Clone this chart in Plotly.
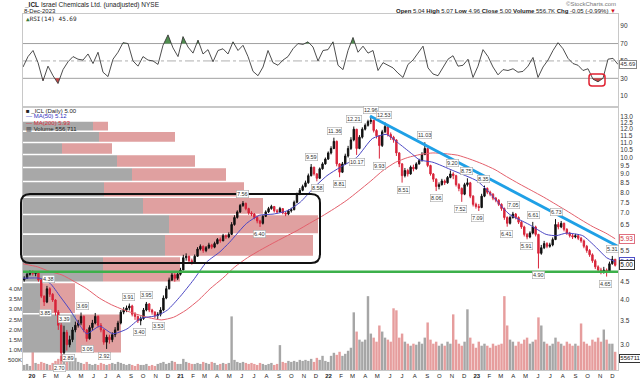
import numpy as np
import pandas as pd
import plotly.graph_objects as go

# ---------------- data ----------------
week_first = "2019-12-13"     # first weekly bar (Friday)
first_open = 4.55
x_start, x_end = "2019-12-10", "2023-12-15"

close = [4.60, 4.72, 4.80,
         4.74, 4.78, 4.55, 4.10, 3.95, 4.30, 4.15, 4.00, 3.70, 3.40, 2.85, 3.25, 3.00,
         3.10, 3.30, 3.40, 3.45, 3.60, 3.30, 3.12, 3.35, 3.45, 3.60, 3.40, 3.30, 3.05,
         3.15, 3.10, 3.20, 3.30, 3.45, 3.70, 3.75, 3.80, 3.85, 3.65, 3.60, 3.50, 3.55,
         3.75, 3.90, 3.75, 3.70, 3.62, 3.65, 3.75, 4.05, 4.30, 4.55, 4.70, 4.60, 4.72,
         4.85, 5.25, 5.30, 5.15, 5.10, 5.30, 5.55, 5.65, 5.50, 5.60, 5.70, 5.62, 5.75,
         5.90, 5.85, 6.05, 6.00, 6.10, 6.50, 6.80, 7.05, 7.35, 7.45, 7.20, 7.00, 6.95,
         6.80, 6.65, 6.55, 6.85, 7.05, 7.20, 7.30, 7.10, 7.05, 7.20, 7.00, 6.95, 7.10,
         7.15, 7.50, 7.90, 8.10, 8.30, 8.50, 8.90, 9.40, 9.00, 8.75, 9.30, 9.60, 9.90, 10.30,
         10.60, 11.10, 9.60, 9.10, 9.60, 10.10, 10.60, 11.20, 12.00, 10.60, 11.40, 12.00,
         12.30, 12.60, 12.70, 11.90, 11.50, 10.80, 11.80, 12.20, 11.60, 11.40, 11.20, 10.30, 9.60,
         8.90, 9.20, 9.00, 9.40, 9.30, 9.60, 9.80, 10.20, 10.60, 9.50, 9.00, 8.70, 8.30, 8.40,
         8.60, 8.50, 8.80, 9.00, 8.90, 8.40, 8.20, 7.90, 8.40, 8.50, 7.80, 7.40, 7.30,
         7.25, 7.80, 8.20, 8.00, 7.90, 7.70, 7.60, 7.40, 7.20, 6.80, 6.55, 6.80, 6.95,
         6.80, 6.60, 6.40, 6.10, 6.00, 6.15, 6.40, 6.10, 5.40, 5.60, 5.75, 5.65, 5.70,
         5.90, 6.50, 6.40, 6.55, 6.30, 6.15, 6.05, 6.00, 6.05, 5.95, 5.85, 5.65, 5.50,
         5.35, 5.15, 4.95, 4.85, 4.80, 4.85, 4.78, 5.05, 5.20, 5.00]
high = [4.66, 4.76, 4.84,
        4.84, 4.82, 4.80, 4.58, 4.12, 4.38, 4.34, 4.18, 4.02, 3.75, 3.45, 3.39, 3.30,
        3.18, 3.36, 3.48, 3.52, 3.69, 3.62, 3.32, 3.40, 3.52, 3.68, 3.62, 3.45, 3.32,
        3.20, 3.20, 3.25, 3.36, 3.50, 3.75, 3.82, 3.86, 3.91, 3.88, 3.70, 3.62, 3.60,
        3.80, 3.95, 3.92, 3.78, 3.72, 3.70, 3.82, 4.12, 4.38, 4.62, 4.82, 4.75, 4.80,
        4.92, 5.35, 5.40, 5.32, 5.22, 5.36, 5.62, 5.72, 5.68, 5.66, 5.78, 5.74, 5.82,
        5.96, 5.98, 6.12, 6.10, 6.18, 6.60, 6.90, 7.12, 7.42, 7.56, 7.48, 7.24, 7.08,
        7.00, 6.85, 6.70, 6.92, 7.12, 7.28, 7.38, 7.32, 7.18, 7.28, 7.22, 7.06, 7.16,
        7.24, 7.58, 7.98, 8.22, 8.40, 8.62, 9.02, 9.59, 9.42, 9.05, 9.38, 9.70, 10.00, 10.40,
        10.75, 11.36, 11.15, 9.65, 9.72, 10.25, 10.78, 11.40, 12.21, 12.00, 11.55, 12.15,
        12.45, 12.75, 12.96, 12.75, 12.00, 11.55, 11.95, 12.53, 12.25, 11.75, 11.50, 11.25, 10.35,
        9.65, 9.35, 9.30, 9.50, 9.55, 9.70, 9.92, 10.35, 11.03, 10.65, 9.55, 9.05, 8.75, 8.52,
        8.72, 8.68, 8.88, 9.20, 9.10, 8.95, 8.48, 8.25, 8.50, 8.75, 8.55, 7.85, 7.48,
        7.42, 7.92, 8.35, 8.25, 8.08, 7.95, 7.76, 7.65, 7.45, 7.25, 6.85, 6.88, 7.05,
        7.00, 6.85, 6.65, 6.45, 6.15, 6.22, 6.61, 6.45, 6.12, 5.70, 5.85, 5.80, 5.78,
        5.98, 6.73, 6.60, 6.65, 6.58, 6.35, 6.20, 6.12, 6.12, 6.10, 6.00, 5.90, 5.70,
        5.55, 5.40, 5.20, 5.00, 4.92, 4.95, 4.90, 5.12, 5.31, 5.20]
low = [4.50, 4.58, 4.68,
       4.68, 4.66, 4.50, 4.05, 3.85, 3.92, 4.08, 3.95, 3.62, 3.30, 2.70, 2.80, 2.89,
       2.95, 3.05, 3.25, 3.35, 3.40, 3.25, 3.06, 3.10, 3.30, 3.42, 3.35, 3.25, 3.00,
       2.92, 3.02, 3.05, 3.15, 3.28, 3.42, 3.65, 3.70, 3.74, 3.60, 3.52, 3.45, 3.40,
       3.52, 3.72, 3.70, 3.64, 3.56, 3.53, 3.60, 3.72, 4.02, 4.28, 4.52, 4.50, 4.55,
       4.68, 4.85, 5.15, 5.08, 5.02, 5.08, 5.28, 5.50, 5.42, 5.44, 5.55, 5.55, 5.58,
       5.72, 5.78, 5.84, 5.92, 5.95, 6.08, 6.45, 6.75, 7.00, 7.28, 7.12, 6.92, 6.86,
       6.72, 6.55, 6.40, 6.50, 6.82, 7.00, 7.15, 7.02, 6.98, 7.02, 6.94, 6.86, 6.90,
       7.02, 7.12, 7.45, 7.85, 8.05, 8.25, 8.45, 8.85, 8.90, 8.58, 8.72, 9.25, 9.55, 9.85,
       10.20, 10.55, 9.45, 8.81, 9.05, 9.55, 10.00, 10.50, 11.10, 10.17, 10.55, 11.30,
       11.90, 12.20, 12.40, 11.75, 11.30, 9.93, 10.70, 11.70, 11.45, 11.20, 11.00, 10.10, 9.40,
       8.51, 8.80, 8.85, 8.95, 9.15, 9.25, 9.55, 9.75, 10.15, 9.40, 8.90, 8.55, 8.06, 8.15,
       8.35, 8.38, 8.45, 8.75, 8.70, 8.30, 8.05, 7.52, 7.85, 8.30, 7.70, 7.30, 7.20,
       7.09, 7.22, 7.75, 7.90, 7.80, 7.60, 7.50, 7.32, 7.10, 6.70, 6.41, 6.50, 6.75,
       6.72, 6.52, 6.32, 6.02, 5.91, 5.95, 6.10, 6.02, 4.90, 5.35, 5.55, 5.58, 5.60,
       5.65, 5.88, 6.30, 6.35, 6.22, 6.08, 5.98, 5.92, 5.95, 5.88, 5.78, 5.58, 5.42,
       5.28, 5.08, 4.88, 4.78, 4.72, 4.74, 4.65, 4.76, 5.02, 4.96]
volume_m = [0.25, 0.30, 0.20,
            1.20, 0.35, 0.30, 0.40, 0.35, 0.30, 0.25, 0.35, 0.45, 0.55, 0.70, 0.65, 0.60,
            0.55, 0.45, 0.60, 0.40, 0.35, 0.30, 0.40, 0.30, 0.25, 0.30, 0.25, 0.35, 0.30,
            0.25, 0.30, 0.35, 0.30, 0.40, 0.35, 0.30, 0.25, 0.30, 0.25, 0.20, 0.30, 0.25,
            0.25, 0.30, 0.20, 0.25, 0.20, 0.30, 0.35, 0.40, 0.30, 0.35, 0.45, 0.40, 0.30,
            0.30, 0.55, 0.40, 0.35, 0.30, 0.30, 0.35, 0.30, 0.40, 0.35, 0.30, 0.40, 0.35,
            0.25, 0.30, 0.35, 0.30, 0.35, 2.65, 0.50, 0.40, 0.35, 0.40, 0.35, 0.30, 0.35,
            0.30, 0.25, 0.35, 0.30, 0.25, 0.30, 0.35, 0.25, 0.30, 1.23, 0.40, 0.35, 0.45,
            0.40, 0.45, 0.40, 0.50, 0.45, 0.50, 0.45, 0.55, 0.40, 0.60, 0.50, 0.70, 0.45, 0.40,
            0.70, 0.85, 0.75, 0.90, 0.70, 0.80, 0.95, 1.10, 2.85, 1.90, 1.50, 1.40,
            1.50, 3.65, 1.80, 1.60, 1.40, 2.20, 1.90, 1.60, 1.50, 1.40, 3.05, 2.95, 1.60,
            1.80, 1.40, 1.30, 1.20, 1.30, 1.25, 1.40, 1.30, 1.60, 2.35, 1.50, 1.30, 1.40, 1.20,
            1.30, 1.20, 1.40, 1.30, 2.75, 1.50, 1.30, 1.20, 1.40, 3.00, 1.60, 1.30, 1.10,
            1.40, 1.20, 1.30, 1.20, 1.10, 1.30, 1.20, 1.25, 1.30, 3.65, 2.20, 1.50, 1.40,
            1.20, 1.40, 1.30, 1.50, 1.60, 1.30, 1.40, 1.50, 2.60, 2.20, 1.40, 1.30, 1.20,
            1.30, 1.60, 1.40, 1.30, 1.20, 1.40, 1.30, 1.20, 1.30, 1.20, 2.30, 1.40, 1.30,
            1.20, 1.50, 1.40, 1.60, 1.40, 2.00, 1.50, 1.30, 1.30, 0.90]

ma50_dates = ["2019-12-10", "2020-01-21", "2020-02-15", "2020-03-10", "2020-04-04", "2020-04-28",
              "2020-05-15", "2020-06-16", "2020-07-18", "2020-08-22", "2020-09-24", "2020-11-05",
              "2020-11-30", "2021-01-01", "2021-02-02", "2021-03-06", "2021-04-08", "2021-05-02",
              "2021-06-13", "2021-07-15", "2021-08-17", "2021-09-21", "2021-10-23", "2021-11-24",
              "2021-12-28", "2022-01-30", "2022-03-11", "2022-04-19", "2022-05-23", "2022-06-25",
              "2022-07-27", "2022-08-13", "2022-09-15", "2022-11-03", "2023-01-02", "2023-01-27",
              "2023-02-20", "2023-03-22", "2023-05-10", "2023-06-21", "2023-07-16", "2023-08-10",
              "2023-09-19", "2023-10-23", "2023-11-17", "2023-12-08"]
ma50 = [4.60, 4.60, 4.45, 4.10, 3.75, 3.40, 3.22, 3.38, 3.22, 3.32, 3.55, 3.62, 3.75, 4.10, 4.55,
        5.10, 5.45, 5.80, 6.55, 6.90, 6.95, 7.10, 7.50, 8.20, 8.90, 9.40, 10.00, 11.30, 11.60,
        10.90, 10.20, 9.85, 9.70, 9.20, 8.60, 8.10, 7.55, 6.95, 6.50, 6.10, 6.05, 6.15, 6.05,
        5.60, 5.25, 5.12]
ma200_dates = ["2019-12-10", "2020-01-15", "2020-02-15", "2020-03-15", "2020-04-15", "2020-05-15",
               "2020-06-15", "2020-07-15", "2020-08-15", "2020-09-15", "2020-10-15", "2020-11-15",
               "2020-12-15", "2021-01-15", "2021-02-15", "2021-03-15", "2021-04-15", "2021-05-15",
               "2021-06-15", "2021-07-15", "2021-08-15", "2021-09-15", "2021-10-15", "2021-11-15",
               "2021-12-15", "2022-01-15", "2022-02-15", "2022-03-15", "2022-04-15", "2022-05-15",
               "2022-06-15", "2022-07-15", "2022-08-15", "2022-09-15", "2022-10-15", "2022-11-15",
               "2022-12-15", "2023-01-15", "2023-02-15", "2023-03-15", "2023-04-15", "2023-05-15",
               "2023-06-15", "2023-07-15", "2023-08-15", "2023-09-15", "2023-10-15", "2023-11-15",
               "2023-12-08"]
ma200 = [5.05, 4.95, 4.80, 4.70, 4.50, 4.30, 4.05, 3.88, 3.75, 3.65, 3.57, 3.52, 3.58, 3.75, 4.00,
         4.30, 4.60, 4.95, 5.25, 5.50, 5.75, 6.00, 6.25, 6.55, 6.85, 7.20, 7.60, 8.05, 8.60, 9.20,
         9.70, 10.00, 10.20, 10.30, 10.25, 10.15, 9.90, 9.60, 9.25, 8.85, 8.45, 8.10, 7.75, 7.40,
         7.05, 6.70, 6.40, 6.15, 5.93]

# RSI(14), sampled evenly from x_start to x_end
rsi14 = [43, 55, 62, 48, 27, 44, 33, 24, 40, 49,
         55, 52, 51, 58, 47, 60, 37, 32, 52, 60,
         71, 70, 50, 44, 55, 51, 50, 46, 68, 80,
         65, 55, 78, 66, 59, 74, 58, 63, 49, 62,
         64, 58, 72, 62, 68, 55, 38, 33, 43, 62,
         48, 45, 51, 55, 64, 70, 69, 72, 66, 50,
         62, 63, 72, 45, 40, 62, 77, 60, 67, 59,
         62, 39, 48, 45, 42, 36, 31, 46, 51, 59,
         67, 42, 35, 33, 43, 52, 56, 44, 45, 52,
         31, 44, 63, 55, 43, 34, 40, 39, 41, 37,
         38, 44, 54, 31, 43, 51, 62, 71, 64, 53,
         47, 45, 39, 41, 29, 26, 30, 52, 53, 46]

# Volume-by-price (M shares): price bin edges, up (grey) and down (pink) volume
vbp_edges = [2.84, 3.66, 4.48, 5.29, 6.11, 6.93, 7.75, 8.57, 9.38, 10.20, 11.02, 11.84, 12.66]
vbp_up = [26.5, 8.5, 40.0, 71.0, 73.0, 60.0, 40.5, 54.5, 47.0, 19.5, 38.0, 35.0]
vbp_down = [22.5, 17.5, 38.5, 74.0, 74.5, 60.0, 70.0, 47.0, 39.0, 25.0, 38.0, 7.5]

swing_dates = ["2020-02-10", "2020-02-03", "2020-03-10", "2020-03-22", "2020-04-01", "2020-05-05",
               "2020-05-17", "2020-06-28", "2020-08-27", "2020-09-23", "2020-10-10", "2020-11-07",
               "2021-06-03", "2021-07-15", "2021-11-21", "2021-12-05",
               "2022-01-16", "2022-01-29", "2022-03-05", "2022-03-13", "2022-04-15", "2022-05-06",
               "2022-05-18", "2022-07-04", "2022-08-25", "2022-09-25", "2022-11-03", "2022-11-22",
               "2022-12-07",
               "2023-01-03", "2023-01-18", "2023-03-16", "2023-04-01", "2023-05-03", "2023-05-22",
               "2023-06-03", "2023-07-16", "2023-11-15", "2023-12-01"]
swing_values = [4.38, 3.85, 2.70, 3.39, 2.89, 3.69, 3.06, 2.92, 3.91, 3.40, 3.95, 3.53,
                7.56, 6.40, 9.59, 8.58,
                11.36, 8.81, 12.21, 10.17, 12.96, 9.93, 12.53, 8.51, 11.03, 8.06, 9.20, 7.52, 8.75,
                7.09, 8.35, 6.41, 7.05, 5.91, 6.61, 4.90, 6.73, 4.65, 5.31]
swing_side = [1, -1, -1, 1, -1, 1, -1, -1, 1, -1, 1, -1,
              1, -1, 1, -1,
              1, -1, 1, -1, 1, -1, 1, -1, 1, -1, 1, -1, 1,
              -1, 1, -1, 1, -1, 1, -1, 1, -1, 1]

support_level = 4.80
trend_dates = ["2022-04-13", "2023-12-13"]
trend_prices = [13.06, 5.66]

price_ticks = [3.0, 3.5, 4.0, 4.5, 5.5, 6.5, 7.0, 7.5, 8.0, 8.5, 9.0, 9.5, 10.0, 10.5, 11.0,
               11.5, 12.0, 12.5, 13.0]
vol_ticks = [0.5, 1.0, 1.5, 2.0, 2.5, 3.0, 3.5, 4.0]
vol_tick_text = ["500K", "1.0M", "1.5M", "2.0M", "2.5M", "3.0M", "3.5M", "4.0M"]

last_close, last_ma50, last_ma200, last_vol, last_rsi = 5.00, 5.12, 5.93, 556711, 45.69

# ---------------- derived ----------------
dates = pd.date_range(week_first, periods=len(close), freq="7D")
opens = [first_open] + close[:-1]
vol_colors = ["rgba(150,150,150,0.85)" if c >= o else "rgba(226,140,140,0.85)"
              for c, o in zip(close, opens)]
rsi_dates = pd.date_range(x_start, x_end, periods=len(rsi14))
rsi_ms = (rsi_dates.astype("int64") // 10**6).to_numpy().astype(float)

FONT = "Liberation Sans"
PL, PT, PW, PH = 23, 14, 595, 356


def pxx(xp):
    return (xp - PL) / PW


def pxy(yp):
    return (PT + PH - yp) / PH


def clip_poly(ts, vals, level, above):
    xs, ys = [], []
    for i in range(len(vals)):
        if i > 0:
            a, b = vals[i - 1], vals[i]
            if (a - level) * (b - level) < 0:
                f = (level - a) / (b - a)
                xs.append(ts[i - 1] + f * (ts[i] - ts[i - 1]))
                ys.append(level)
        xs.append(ts[i])
        ys.append(max(vals[i], level) if above else min(vals[i], level))
    xs += [ts[-1], ts[0]]
    ys += [level, level]
    return pd.to_datetime(np.array(xs), unit="ms"), ys


def rect_polys(x0s, x1s, edges):
    xs, ys = [], []
    for i in range(len(x0s)):
        lo, hi = edges[i] * 1.005, edges[i + 1] / 1.005
        xs += [x0s[i], x1s[i], x1s[i], x0s[i], x0s[i], None]
        ys += [lo, lo, hi, hi, lo, None]
    return xs, ys


def rounded(x0, y0, x1, y1, rx, ry):
    return (f"M {x0 + rx},{y0} L {x1 - rx},{y0} Q {x1},{y0} {x1},{y0 + ry} "
            f"L {x1},{y1 - ry} Q {x1},{y1} {x1 - rx},{y1} L {x0 + rx},{y1} "
            f"Q {x0},{y1} {x0},{y1 - ry} L {x0},{y0 + ry} Q {x0},{y0} {x0 + rx},{y0} Z")


fig = go.Figure()

# ---- RSI panel ----
gx, gyv = clip_poly(rsi_ms, rsi14, 70, True)
fig.add_trace(go.Scatter(x=gx, y=gyv, fill="toself", fillcolor="rgba(60,130,60,0.9)",
                         line=dict(width=0), mode="lines", xaxis="x", yaxis="y", hoverinfo="skip"))
rx_, ryv = clip_poly(rsi_ms, rsi14, 30, False)
fig.add_trace(go.Scatter(x=rx_, y=ryv, fill="toself", fillcolor="rgba(190,50,50,0.9)",
                         line=dict(width=0), mode="lines", xaxis="x", yaxis="y", hoverinfo="skip"))
fig.add_trace(go.Scatter(x=rsi_dates, y=rsi14, mode="lines", line=dict(color="#3a3a3a", width=0.9),
                         xaxis="x", yaxis="y", hoverinfo="skip"))

# ---- volume (bottom layer of price panel) ----
fig.add_trace(go.Bar(x=dates, y=volume_m, marker=dict(color=vol_colors, line=dict(width=0)),
                     width=6 * 86400000, xaxis="x2", yaxis="y3", hoverinfo="skip"))

# ---- volume by price ----
upx, upy = rect_polys([0] * len(vbp_up), vbp_up, vbp_edges)
dnx, dny = rect_polys(vbp_up, [u + d for u, d in zip(vbp_up, vbp_down)], vbp_edges)
fig.add_trace(go.Scatter(x=upx, y=upy, fill="toself", fillcolor="rgb(168,168,168)",
                         line=dict(width=0), mode="lines", xaxis="x3", yaxis="y2", hoverinfo="skip"))
fig.add_trace(go.Scatter(x=dnx, y=dny, fill="toself", fillcolor="rgb(224,160,160)",
                         line=dict(width=0), mode="lines", xaxis="x3", yaxis="y2", hoverinfo="skip"))

# ---- price ----
fig.add_trace(go.Candlestick(x=dates, open=opens, high=high, low=low, close=close,
                             increasing=dict(line=dict(color="#111111", width=1), fillcolor="#111111"),
                             decreasing=dict(line=dict(color="#d8243a", width=1), fillcolor="#d8243a"),
                             xaxis="x4", yaxis="y2", hoverinfo="skip"))
fig.add_trace(go.Scatter(x=pd.to_datetime(ma200_dates), y=ma200, mode="lines",
                         line=dict(color="#e4606c", width=1, shape="spline", smoothing=0.6),
                         xaxis="x4", yaxis="y2", hoverinfo="skip"))
fig.add_trace(go.Scatter(x=pd.to_datetime(ma50_dates), y=ma50, mode="lines",
                         line=dict(color="#4a46c4", width=1, shape="spline", smoothing=0.6),
                         xaxis="x4", yaxis="y2", hoverinfo="skip"))
fig.add_trace(go.Scatter(x=[x_start, x_end], y=[support_level, support_level], mode="lines",
                         line=dict(color="#3cb04a", width=2.5), xaxis="x4", yaxis="y2", hoverinfo="skip"))
fig.add_trace(go.Scatter(x=trend_dates, y=trend_prices, mode="lines",
                         line=dict(color="#1fa0e6", width=3), xaxis="x4", yaxis="y2", hoverinfo="skip"))

# ---- axes ----
month_ticks = pd.date_range("2020-01-01", "2023-12-01", freq="MS")
month_text = [f"<b>{d:%y}</b>" if d.month == 1 else "JFMAMJJASOND"[d.month - 1] for d in month_ticks]
split = (370 - 107) / PH
tickfont = dict(family=FONT, size=6.5, color="#333")
frame = dict(showline=True, linecolor="#c8c8c8", linewidth=1, mirror=True, showgrid=False,
             zeroline=False, automargin=False)

fig.update_layout(
    width=640, height=380, margin=dict(l=PL, r=640 - PL - PW, t=PT, b=380 - PT - PH),
    paper_bgcolor="white", plot_bgcolor="rgba(0,0,0,0)", showlegend=False, hovermode=False,
    font=dict(family=FONT, size=7, color="#222"),
    xaxis=dict(domain=[0, 1], anchor="y", type="date", range=[x_start, x_end],
               showticklabels=False, ticks="", **frame),
    yaxis=dict(domain=[split, 1], anchor="x", range=[-3, 104], side="right",
               tickvals=[10, 30, 50, 70, 90], tickfont=tickfont, ticks="", **frame),
    xaxis2=dict(domain=[0, 1], anchor="y2", type="date", range=[x_start, x_end],
                tickvals=month_ticks, ticktext=month_text, tickangle=0, ticks="",
                tickfont=dict(family=FONT, size=6, color="#222"), **frame),
    yaxis2=dict(domain=[0, split], anchor="x2", type="log",
                range=[np.log10(2.55), np.log10(13.84)], side="right",
                tickvals=price_ticks, ticktext=[f"{t:.1f}" for t in price_ticks],
                tickfont=tickfont, ticks="", **frame),
    yaxis3=dict(overlaying="y2", anchor="x2", side="left", range=[0, 13.0],
                tickvals=vol_ticks, ticktext=vol_tick_text, ticks="",
                tickfont=dict(family=FONT, size=6, color="#333"),
                showgrid=False, zeroline=False, showline=False, automargin=False),
    xaxis3=dict(overlaying="x2", anchor="y2", range=[0, PW / 2], visible=False),
    xaxis4=dict(overlaying="x2", anchor="y2", type="date", range=[x_start, x_end], visible=False,
                rangeslider=dict(visible=False)),
)

# RSI reference lines
for lvl, dash, col in [(70, "solid", "#a0a0a0"), (30, "solid", "#a0a0a0"), (50, "dashdot", "#b0b0b0")]:
    fig.add_shape(type="line", xref="x domain", x0=0, x1=1, yref="y", y0=lvl, y1=lvl,
                  line=dict(color=col, width=1, dash=dash), layer="below")

# boxes drawn on the chart
fig.add_shape(type="path", xref="paper", yref="paper",
              path=rounded(pxx(21), pxy(263), pxx(320), pxy(194), 9 / PW, 9 / PH),
              line=dict(color="#111", width=2))
fig.add_shape(type="path", xref="paper", yref="paper",
              path=rounded(pxx(589), pxy(86), pxx(605), pxy(74), 3 / PW, 3 / PH),
              line=dict(color="#e02030", width=1.5))

ann = []
# swing labels
for d, v, s in zip(swing_dates, swing_values, swing_side):
    ann.append(dict(x=d, y=np.log10(v), xref="x2", yref="y2", text=f"{v:.2f}", showarrow=False,
                    yshift=7 * s, font=dict(family=FONT, size=5.5, color="#333"),
                    bgcolor="white", bordercolor="#a8a8a8", borderwidth=0.6, borderpad=0.3))

# right side value boxes
for val, col, bcol in [(last_ma200, "#d03040", "#e07080"), (last_ma50, "#3030b0", "#5050c8"),
                       (last_close, "#111", "#333")]:
    ann.append(dict(x=1, xref="paper", xanchor="left", xshift=1, y=np.log10(val), yref="y2",
                    text=f"{val:.2f}", showarrow=False, font=dict(family=FONT, size=6.5, color=col),
                    bgcolor="white", bordercolor=bcol, borderwidth=1, borderpad=0.3))
ann.append(dict(x=1, xref="paper", xanchor="left", xshift=1, y=last_vol / 1e6, yref="y3",
                text=f"{last_vol}", showarrow=False, font=dict(family=FONT, size=6, color="#111"),
                bgcolor="white", bordercolor="#333", borderwidth=1, borderpad=0.3))
ann.append(dict(x=1, xref="paper", xanchor="left", xshift=1, y=last_rsi, yref="y",
                text=f"{last_rsi:.2f}", showarrow=False, font=dict(family=FONT, size=6, color="#333"),
                bgcolor="white", bordercolor="#888", borderwidth=1, borderpad=0.3))

# header
ann.append(dict(x=pxx(22), y=pxy(5), xref="paper", yref="paper", xanchor="left", yanchor="middle",
                text="<b>_ICL</b> Israel Chemicals Ltd. (unadjusted) NYSE", showarrow=False,
                font=dict(family=FONT, size=6.5, color="#222")))
ann.append(dict(x=pxx(22), y=pxy(11.5), xref="paper", yref="paper", xanchor="left", yanchor="middle",
                text="8-Dec-2023", showarrow=False, font=dict(family=FONT, size=6, color="#222")))
ann.append(dict(x=pxx(618), y=pxy(4.5), xref="paper", yref="paper", xanchor="right", yanchor="middle",
                text="©StockCharts.com", showarrow=False, font=dict(family=FONT, size=6, color="#777")))
ann.append(dict(x=pxx(618), y=pxy(11.5), xref="paper", yref="paper", xanchor="right", yanchor="middle",
                text=("<b>Open</b> 5.04 <b>High</b> 5.07 <b>Low</b> 4.96 <b>Close</b> 5.00 "
                      "<b>Volume</b> 556.7K <b>Chg</b> -0.05 (-0.99%) <span style='color:#d01020'>▼</span>"),
                showarrow=False, font=dict(family=FONT, size=6, color="#222")))
ann.append(dict(x=pxx(24), y=pxy(18.5), xref="paper", yref="paper", xanchor="left", yanchor="middle",
                text=f"<span style='color:#3a7a3a'>▲</span>RSI(14) {last_rsi:.2f}", showarrow=False,
                font=dict(family="DejaVu Sans Mono", size=6, color="#222")))

# price panel legend
legend_rows = [
    (110.5, f"■ _ICL (Daily) {last_close:.2f}", "#222"),
    (116.5, f"— MA(50) {last_ma50:.2f}", "#3030c0"),
    (122.5, f"— MA(200) {last_ma200:.2f}", "#d83040"),
    (128.5, f"▥ Volume {last_vol:,}", "#222"),
]
for yp, txt, col in legend_rows:
    ann.append(dict(x=pxx(24), y=pxy(yp), xref="paper", yref="paper", xanchor="left", yanchor="middle",
                    text=txt, showarrow=False, font=dict(family=FONT, size=6, color=col)))

fig.update_layout(annotations=ann)
fig.write_html("out.html", config={"displayModeBar": False},
               post_script="document.body.style.margin='0px';document.body.style.padding='0px';")
